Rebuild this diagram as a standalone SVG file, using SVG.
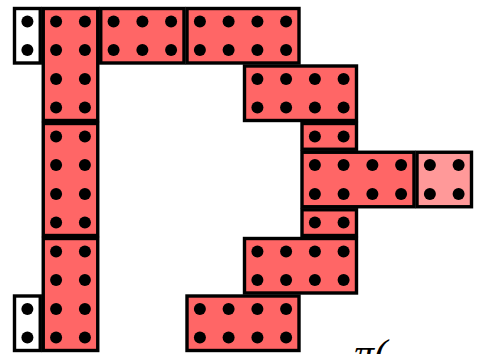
<svg xmlns="http://www.w3.org/2000/svg" width="477" height="354" viewBox="0 0 477 354">
<style>
.b{stroke:#000;stroke-width:3.4}
.r{fill:#FF6666}
.p{fill:#FF9999}
.w{fill:#FFFFFF}
circle{fill:#000}
.t{font-family:"Liberation Serif",serif;font-style:italic;font-size:40px;fill:#000}
</style>
<rect width="477" height="354" fill="#fff"/>
<g id="connectors"></g>
<g id="w1"><rect class="b w" x="14.5" y="8.5" width="25.75" height="54.5"/>
<circle cx="27.4" cy="21.4" r="6"/><circle cx="27.4" cy="50.1" r="6"/></g>
<g id="c1"><rect class="b r" x="43.25" y="8.5" width="54.5" height="112"/>
<circle cx="56.1" cy="21.4" r="6"/><circle cx="84.9" cy="21.4" r="6"/>
<circle cx="56.1" cy="50.1" r="6"/><circle cx="84.9" cy="50.1" r="6"/>
<circle cx="56.1" cy="78.9" r="6"/><circle cx="84.9" cy="78.9" r="6"/>
<circle cx="56.1" cy="107.6" r="6"/><circle cx="84.9" cy="107.6" r="6"/></g>
<g id="t2"><rect class="b r" x="100.75" y="8.5" width="83.25" height="54.5"/>
<circle cx="113.6" cy="21.4" r="6"/><circle cx="142.4" cy="21.4" r="6"/><circle cx="171.1" cy="21.4" r="6"/>
<circle cx="113.6" cy="50.1" r="6"/><circle cx="142.4" cy="50.1" r="6"/><circle cx="171.1" cy="50.1" r="6"/></g>
<g id="t3"><rect class="b r" x="187" y="8.5" width="112" height="54.5"/>
<circle cx="199.9" cy="21.4" r="6"/><circle cx="228.6" cy="21.4" r="6"/><circle cx="257.4" cy="21.4" r="6"/><circle cx="286.1" cy="21.4" r="6"/>
<circle cx="199.9" cy="50.1" r="6"/><circle cx="228.6" cy="50.1" r="6"/><circle cx="257.4" cy="50.1" r="6"/><circle cx="286.1" cy="50.1" r="6"/></g>
<g id="b5"><rect class="b r" x="244.5" y="66" width="112" height="54.5"/>
<circle cx="257.4" cy="78.9" r="6"/><circle cx="286.1" cy="78.9" r="6"/><circle cx="314.9" cy="78.9" r="6"/><circle cx="343.6" cy="78.9" r="6"/>
<circle cx="257.4" cy="107.6" r="6"/><circle cx="286.1" cy="107.6" r="6"/><circle cx="314.9" cy="107.6" r="6"/><circle cx="343.6" cy="107.6" r="6"/></g>
<g id="b6"><rect class="b r" x="302" y="123.5" width="54.5" height="25.75"/>
<circle cx="314.9" cy="136.4" r="6"/><circle cx="343.6" cy="136.4" r="6"/></g>
<g id="b7"><rect class="b r" x="302" y="152.25" width="112" height="54.5"/>
<circle cx="314.9" cy="165.1" r="6"/><circle cx="343.6" cy="165.1" r="6"/><circle cx="372.4" cy="165.1" r="6"/><circle cx="401.1" cy="165.1" r="6"/>
<circle cx="314.9" cy="193.9" r="6"/><circle cx="343.6" cy="193.9" r="6"/><circle cx="372.4" cy="193.9" r="6"/><circle cx="401.1" cy="193.9" r="6"/></g>
<g id="p8"><rect class="b p" x="417" y="152.25" width="54.5" height="54.5"/>
<circle cx="429.9" cy="165.1" r="6"/><circle cx="458.6" cy="165.1" r="6"/>
<circle cx="429.9" cy="193.9" r="6"/><circle cx="458.6" cy="193.9" r="6"/></g>
<g id="b9"><rect class="b r" x="302" y="209.75" width="54.5" height="25.75"/>
<circle cx="314.9" cy="222.6" r="6"/><circle cx="343.6" cy="222.6" r="6"/></g>
<g id="b10"><rect class="b r" x="244.5" y="238.5" width="112" height="54.5"/>
<circle cx="257.4" cy="251.4" r="6"/><circle cx="286.1" cy="251.4" r="6"/><circle cx="314.9" cy="251.4" r="6"/><circle cx="343.6" cy="251.4" r="6"/>
<circle cx="257.4" cy="280.1" r="6"/><circle cx="286.1" cy="280.1" r="6"/><circle cx="314.9" cy="280.1" r="6"/><circle cx="343.6" cy="280.1" r="6"/></g>
<g id="c2"><rect class="b r" x="43.25" y="123.5" width="54.5" height="112"/>
<circle cx="56.1" cy="136.4" r="6"/><circle cx="84.9" cy="136.4" r="6"/>
<circle cx="56.1" cy="165.1" r="6"/><circle cx="84.9" cy="165.1" r="6"/>
<circle cx="56.1" cy="193.9" r="6"/><circle cx="84.9" cy="193.9" r="6"/>
<circle cx="56.1" cy="222.6" r="6"/><circle cx="84.9" cy="222.6" r="6"/></g>
<g id="c3"><rect class="b r" x="43.25" y="238.5" width="54.5" height="112"/>
<circle cx="56.1" cy="251.4" r="6"/><circle cx="84.9" cy="251.4" r="6"/>
<circle cx="56.1" cy="280.1" r="6"/><circle cx="84.9" cy="280.1" r="6"/>
<circle cx="56.1" cy="308.9" r="6"/><circle cx="84.9" cy="308.9" r="6"/>
<circle cx="56.1" cy="337.6" r="6"/><circle cx="84.9" cy="337.6" r="6"/></g>
<g id="b13"><rect class="b r" x="187" y="296" width="112" height="54.5"/>
<circle cx="199.9" cy="308.9" r="6"/><circle cx="228.6" cy="308.9" r="6"/><circle cx="257.4" cy="308.9" r="6"/><circle cx="286.1" cy="308.9" r="6"/>
<circle cx="199.9" cy="337.6" r="6"/><circle cx="228.6" cy="337.6" r="6"/><circle cx="257.4" cy="337.6" r="6"/><circle cx="286.1" cy="337.6" r="6"/></g>
<g id="w14"><rect class="b w" x="14.5" y="296" width="25.75" height="54.5"/>
<circle cx="27.4" cy="308.9" r="6"/><circle cx="27.4" cy="337.6" r="6"/></g>
<text class="t" x="354" y="367">π(</text>
</svg>
